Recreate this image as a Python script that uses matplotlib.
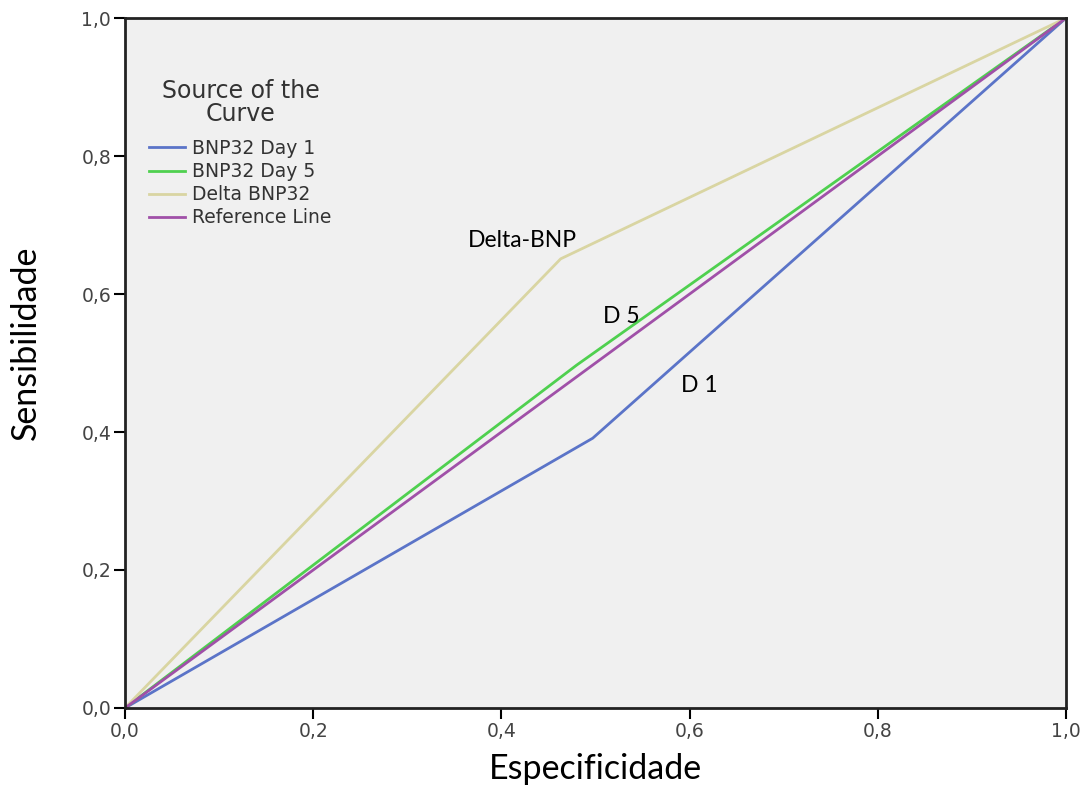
import matplotlib.pyplot as plt
from matplotlib.ticker import FuncFormatter

# ROC curve points (1 - specificity on x, sensitivity on y)
day1_x = [0.0, 0.497, 1.0]
day1_y = [0.0, 0.391, 1.0]
day5_x = [0.0, 0.48, 1.0]
day5_y = [0.0, 0.497, 1.0]
delta_x = [0.0, 0.463, 1.0]
delta_y = [0.0, 0.651, 1.0]
ref_x = [0.0, 1.0]
ref_y = [0.0, 1.0]

series_labels = ['BNP32 Day 1', 'BNP32 Day 5', 'Delta BNP32', 'Reference Line']
ticks = [0.0, 0.2, 0.4, 0.6, 0.8, 1.0]

plt.rcParams['font.family'] = 'DejaVu Sans'

fig = plt.figure(figsize=(10.89, 7.87), dpi=100)
ax = fig.add_axes([0.1148, 0.1004, 0.8641, 0.8767])
ax.set_facecolor('#f0f0f0')

ax.plot(day1_x, day1_y, color='#5b74c8', lw=2, label=series_labels[0])
ax.plot(day5_x, day5_y, color='#4fd04f', lw=2, label=series_labels[1])
ax.plot(delta_x, delta_y, color='#d9d5a2', lw=2, label=series_labels[2])
ax.plot(ref_x, ref_y, color='#a050a8', lw=2, label=series_labels[3])

ax.set_xlim(0, 1)
ax.set_ylim(0, 1)
ax.set_xticks(ticks)
ax.set_yticks(ticks)
comma = FuncFormatter(lambda v, p: f'{v:.1f}'.replace('.', ','))
ax.xaxis.set_major_formatter(comma)
ax.yaxis.set_major_formatter(comma)
ax.tick_params(direction='out', length=8, width=1.5, labelsize=13.5,
               labelcolor='#444444', pad=2)
for s in ax.spines.values():
    s.set_linewidth(2)
    s.set_color('#222222')

ax.set_xlabel('Especificidade', fontsize=24.5, family='Lato', labelpad=9)
ax.set_ylabel('Sensibilidade', fontsize=24.5, family='Lato')
ax.yaxis.set_label_coords(-0.088, 0.529)

# curve labels
ax.text(0.3645, 0.677, 'Delta-BNP', fontsize=16.5, family='Lato', va='center')
ax.text(0.508, 0.568, 'D 5', fontsize=16.5, family='Lato', va='center')
ax.text(0.591, 0.468, 'D 1', fontsize=16.5, family='Lato', va='center')

leg = ax.legend(title='Source of the\nCurve', loc='upper left',
                bbox_to_anchor=(0.012, 0.93), frameon=False, fontsize=13.5,
                title_fontsize=17, handlelength=1.9, handletextpad=0.37,
                labelspacing=0.22, borderaxespad=0.3)
leg.get_title().set_multialignment('center')
leg.get_title().set_linespacing(0.95)
leg.get_title().set_color('#333333')
leg._legend_box.sep = 9
for t in leg.get_texts():
    t.set_color('#333333')

fig.savefig('out.png', dpi=100)
